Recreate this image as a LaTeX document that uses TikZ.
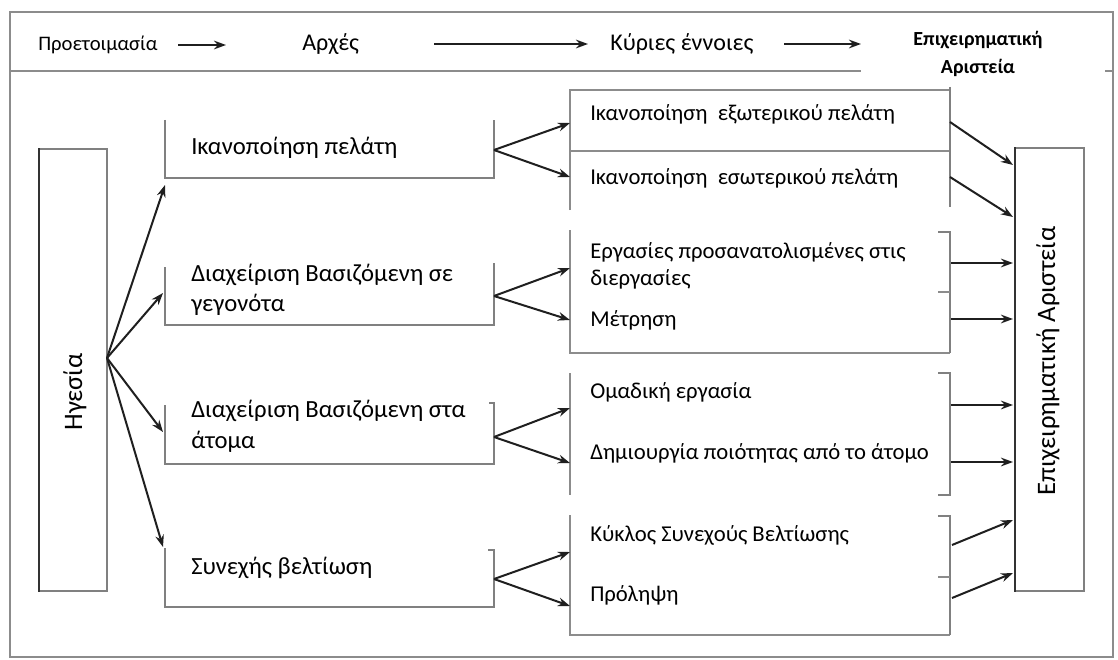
\documentclass[tikz,border=0pt]{standalone}
\usepackage{fontspec}
\setmainfont{Carlito}
\usetikzlibrary{arrows.meta}
\begin{document}
\begin{tikzpicture}[x=0.75pt,y=-0.75pt,
  frame/.style={draw=black!45, line width=1.2pt},
  side/.style={draw=black!50, line width=1.6pt},
  thin/.style={draw=black!45, line width=0.9pt},
  dark/.style={draw=black!80, line width=1.8pt},
  arr/.style={draw=black!88, line width=1.5pt, -{Stealth[length=9pt,width=6.5pt]}},
  big/.style={font=\fontsize{18.5}{22}\selectfont, inner sep=0pt},
  vert/.style={font=\fontsize{20}{24}\selectfont, inner sep=0pt, rotate=90},
  mid/.style={font=\fontsize{17}{20}\selectfont, inner sep=0pt},
  head/.style={font=\fontsize{18}{22}\selectfont, inner sep=0pt},
  small/.style={font=\fontsize{15.5}{19}\selectfont, inner sep=0pt},
  headb/.style={font=\fontsize{15}{18}\bfseries\selectfont, inner sep=0pt, align=center}]
\useasboundingbox (0,0) rectangle (1118,660);
\fill[white] (0,0) rectangle (1118,660);

% outer frame and header row
\draw[frame] (10,12) -- (1113,12) -- (1113,657) -- (10,657) -- cycle;
\draw[frame] (10,71) -- (861,71);
\draw[frame] (1105,71) -- (1113,71);

\node[small, anchor=base west] (prep) at (38,51) {Προετοιμασία};
\node[head, anchor=base west] (arch) at (302,51) {Αρχές};
\node[head, anchor=base west] (kyr) at (610,51) {Κύριες έννοιες};
\node[headb, anchor=center] (exc) at (978,54) {Επιχειρηματική\\[3pt]Αριστεία};
\coordinate (h1a) at (178,45); \coordinate (h1b) at (226,45);
\coordinate (h2a) at (434,44); \coordinate (h2b) at (588,44);
\coordinate (h3a) at (784,44); \coordinate (h3b) at (861,44);
\draw[arr] (h1a) -- (h1b);
\draw[arr] (h2a) -- (h2b);
\draw[arr] (h3a) -- (h3b);

% leadership column
\draw[side] (39,149) -- (107,149) -- (107,591) -- (39,591);
\draw[dark] (39,148) -- (39,592);
\node[vert] (lead) at (75,392) {Ηγεσία};

% business excellence column
\draw[side] (1015,148) -- (1084,148) -- (1084,591) -- (1015,591);
\draw[dark] (1015,147) -- (1015,592);
\node[vert] (bexc) at (1048,361) {Επιχειρηματική Αριστεία};

% principles
\draw[side] (165,120) -- (165,178) -- (494,178) -- (494,120);
\draw[side] (165,267) -- (165,325) -- (494,325) -- (494,263);
\draw[side] (165,405) -- (165,464) -- (494,464) -- (494,403) -- (489,403);
\draw[side] (165,548) -- (165,607) -- (494,607) -- (494,550) -- (488,550);
\node[big, anchor=base west] (p1) at (191,155) {Ικανοποίηση πελάτη};
\node[big, anchor=base west] (p2a) at (191,281) {Διαχείριση Βασιζόμενη σε};
\node[big, anchor=base west] (p2b) at (191,311) {γεγονότα};
\node[big, anchor=base west] (p3a) at (191,417) {Διαχείριση Βασιζόμενη στα};
\node[big, anchor=base west] (p3b) at (191,448) {άτομα};
\node[big, anchor=base west] (p4) at (191,574) {Συνεχής βελτίωση};

% key concepts
\draw[thin] (570,210) -- (570,90) -- (950,90);
\draw[thin] (570,151) -- (950,151);
\draw[side] (950,87) -- (950,207);
\draw[thin] (570,230) -- (570,353) -- (950,353);
\draw[side] (938,232) -- (950,232) -- (950,353);
\draw[thin] (938,292) -- (950,292);
\draw[thin] (570,373) -- (570,495);
\draw[side] (938,373) -- (950,373) -- (950,495) -- (938,495);
\draw[thin] (570,515) -- (570,635) -- (950,635);
\draw[side] (938,516) -- (950,516) -- (950,635);
\draw[thin] (938,577) -- (950,577);
\node[mid, anchor=base west] (c1) at (590,121) {Ικανοποίηση\ \ εξωτερικού πελάτη};
\node[mid, anchor=base west] (c2) at (590,184) {Ικανοποίηση\ \ εσωτερικού πελάτη};
\node[mid, anchor=base west] (c3a) at (590,258) {Εργασίες προσανατολισμένες στις};
\node[mid, anchor=base west] (c3b) at (590,285) {διεργασίες};
\node[mid, anchor=base west] (c4) at (590,326) {Μέτρηση};
\node[mid, anchor=base west] (c5) at (590,398) {Ομαδική εργασία};
\node[mid, anchor=base west] (c6) at (590,459) {Δημιουργία ποιότητας από το άτομο};
\node[mid, anchor=base west] (c7) at (590,541) {Κύκλος Συνεχούς Βελτίωσης};
\node[mid, anchor=base west] (c8) at (590,601) {Πρόληψη};

% leadership arrows
\coordinate (L) at (107,358);
\coordinate (L1) at (165,185);
\coordinate (L2) at (163,293);
\coordinate (L3) at (163,432);
\coordinate (L4) at (163,547);
\foreach \t in {L1,L2,L3,L4} \draw[arr] (L) -- (\t);

% principle to concept arrows
\coordinate (P1) at (494,150); \coordinate (A1) at (570,123); \coordinate (A2) at (570,177);
\coordinate (P2) at (494,296); \coordinate (A3) at (570,268); \coordinate (A4) at (570,320);
\coordinate (P3) at (494,437); \coordinate (A5) at (570,408); \coordinate (A6) at (570,463);
\coordinate (P4) at (494,579); \coordinate (A7) at (570,552); \coordinate (A8) at (570,606);
\draw[arr] (P1) -- (A1); \draw[arr] (P1) -- (A2);
\draw[arr] (P2) -- (A3); \draw[arr] (P2) -- (A4);
\draw[arr] (P3) -- (A5); \draw[arr] (P3) -- (A6);
\draw[arr] (P4) -- (A7); \draw[arr] (P4) -- (A8);

% concept to excellence arrows
\coordinate (K1) at (950,122); \coordinate (E1) at (1013,165);
\coordinate (K2) at (950,177); \coordinate (E2) at (1013,217);
\coordinate (K3) at (951,263); \coordinate (E3) at (1013,263);
\coordinate (K4) at (951,319); \coordinate (E4) at (1013,319);
\coordinate (K5) at (951,405); \coordinate (E5) at (1013,405);
\coordinate (K6) at (951,462); \coordinate (E6) at (1013,462);
\coordinate (K7) at (952,545); \coordinate (E7) at (1013,520);
\coordinate (K8) at (952,598); \coordinate (E8) at (1013,573);
\draw[arr] (K1) -- (E1); \draw[arr] (K2) -- (E2);
\draw[arr] (K3) -- (E3); \draw[arr] (K4) -- (E4);
\draw[arr] (K5) -- (E5); \draw[arr] (K6) -- (E6);
\draw[arr] (K7) -- (E7); \draw[arr] (K8) -- (E8);
\end{tikzpicture}
\end{document}
